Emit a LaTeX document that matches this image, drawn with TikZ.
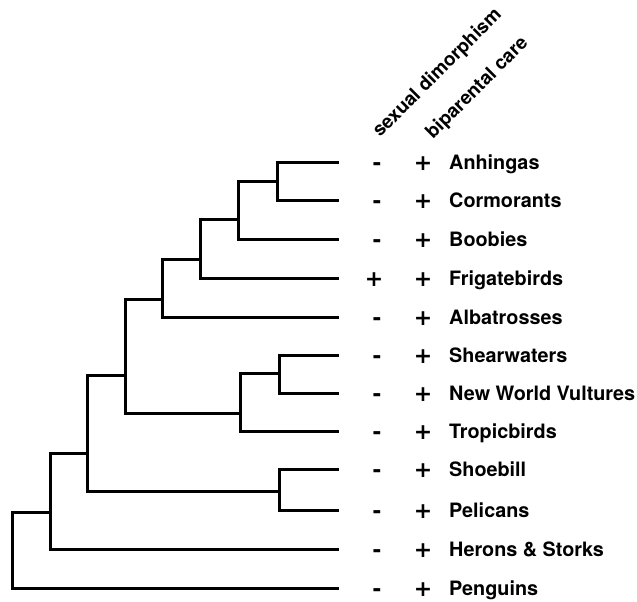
\documentclass[tikz,border=0pt]{standalone}
\usepackage{fontspec}
\setmainfont{TeX Gyre Heros}
\newfontfamily\symfam{DejaVu Sans}
\begin{document}
\begin{tikzpicture}[x=1pt,y=-1pt,
  br/.style={line width=3pt,line join=miter,line cap=rect},
  lbl/.style={anchor=base west,inner sep=0pt,font=\fontsize{19.8}{20}\selectfont\bfseries},
  sym/.style={anchor=base,inner sep=0pt,font=\symfam\fontsize{22}{22}\selectfont\bfseries},
  hdr/.style={anchor=base west,inner sep=0pt,rotate=45,font=\fontsize{19}{20}\selectfont\bfseries}]
\useasboundingbox (0,0) rectangle (637,602);
% leaves
\coordinate (L1) at (337,162.7);
\coordinate (L2) at (337,200.7);
\coordinate (L3) at (337,239.3);
\coordinate (L4) at (337,278.3);
\coordinate (L5) at (337,317.7);
\coordinate (L6) at (337,355);
\coordinate (L7) at (337,393);
\coordinate (L8) at (337,431.7);
\coordinate (L9) at (337,469);
\coordinate (L10) at (337,510);
\coordinate (L11) at (337,549);
\coordinate (L12) at (337,588);
% internal nodes
\coordinate (n12) at (277,181.7);
\coordinate (n123) at (238,219);
\coordinate (n1234) at (200,259);
\coordinate (n12345) at (162,299);
\coordinate (n67) at (279,373);
\coordinate (n678) at (240,413);
\coordinate (nA) at (125,375);
\coordinate (n910) at (279,491.7);
\coordinate (nB) at (87,453);
\coordinate (nC) at (50,512);
\coordinate (root) at (12,550);
% branches
\draw[br] (L1) -| (n12) |- (L2);
\draw[br] (n12) -| (n123) |- (L3);
\draw[br] (n123) -| (n1234) |- (L4);
\draw[br] (n1234) -| (n12345) |- (L5);
\draw[br] (L6) -| (n67) |- (L7);
\draw[br] (n67) -| (n678) |- (L8);
\draw[br] (n12345) -| (nA) |- (n678);
\draw[br] (L9) -| (n910) |- (L10);
\draw[br] (nA) -| (nB) |- (n910);
\draw[br] (nB) -| (nC) |- (L11);
\draw[br] (nC) -| (root) |- (L12);
% headers
\node[hdr] (h1) at (380,138) {sexual dimorphism};
\node[hdr] (h2) at (433,140) {biparental care};
% rows
\foreach \i/\y/\a/\xa in {1/162.7/-/377,2/200.7/-/377,3/239.3/-/377,4/278.3/+/374,5/317.7/-/377,6/355/-/377,7/393/-/377,8/431.7/-/377,9/469/-/377,10/510/-/377,11/549/-/377,12/588/-/377}{
  \node[sym] (sd\i) at (\xa,\y+8) {\a};
  \node[sym] (bc\i) at (423,\y+8) {+};
}
\foreach \i/\y/\name in {1/162.7/Anhingas,2/200.7/Cormorants,3/239.3/Boobies,4/278.3/Frigatebirds,5/317.7/Albatrosses,6/355/Shearwaters,7/393/New World Vultures,8/431.7/Tropicbirds,9/469/Shoebill,10/510/Pelicans,11/549/Herons \& Storks,12/588/Penguins}{
  \node[lbl] (t\i) at (449,\y+7) {\name};
}
\end{tikzpicture}
\end{document}
